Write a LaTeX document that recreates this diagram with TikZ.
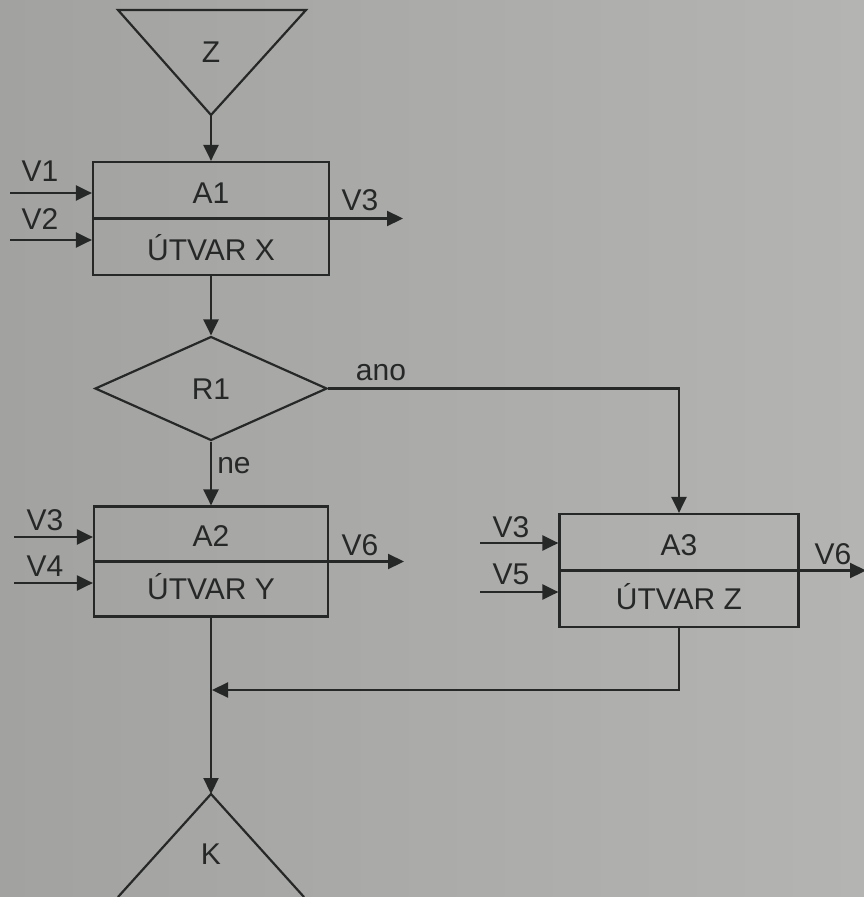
\documentclass[tikz,border=0pt]{standalone}
\usepackage{fontspec}
\setmainfont{Liberation Sans}
\usetikzlibrary{arrows.meta,shapes.geometric}
\definecolor{bgL}{RGB}{162,162,160}
\definecolor{bgR}{RGB}{180,180,178}
\definecolor{ink}{RGB}{38,40,40}
\begin{document}
\begin{tikzpicture}[x=1pt,y=-1pt,line width=2.2pt,draw=ink,
  >={Triangle[length=16pt,width=15pt]},
  every node/.style={text=ink,font=\fontsize{30}{34}\selectfont},
  proc/.style={draw,rectangle,inner sep=0pt,minimum width=236pt,minimum height=113pt},
  dec/.style={draw,diamond,inner sep=0pt,aspect=2.23,minimum width=232pt,minimum height=104pt},
  lab/.style={inner sep=0pt,anchor=base},
  flow/.style={->}]
\shade[left color=bgL,right color=bgR] (0,0) rectangle (864,897);
\useasboundingbox (0,0) rectangle (864,897);

% start triangle Z
\coordinate (ZL) at (118,10);
\coordinate (ZR) at (306,10);
\coordinate (Zapex) at (211,115);
\draw[line join=miter] (ZL) -- (ZR) -- (Zapex) -- cycle;
\node[inner sep=0pt] (Z) at (211,52) {Z};

% A1
\node[proc] (A1) at (211,218.5) {};
\draw (A1.west) -- (A1.east);
\node[lab] (A1t) at (211,203) {A1};
\node[lab] (A1b) at (211,260) {ÚTVAR X};
\coordinate (v1s) at (10,193);
\coordinate (v2s) at (10,240);
\draw[flow] (v1s) -- (v1s -| A1.west);
\draw[flow] (v2s) -- (v2s -| A1.west);
\node[inner sep=0pt] (lv1) at (40,171) {V1};
\node[inner sep=0pt] (lv2) at (40,219) {V2};
\coordinate (v3e) at (403,218.5);
\draw[flow] (A1.east) -- (v3e);
\node[inner sep=0pt] (lv3a) at (360,200) {V3};

% decision R1
\node[dec] (R1) at (211,388.5) {};
\node[inner sep=0pt] (R1t) at (211,389) {R1};

% A2
\node[proc,minimum width=234pt,minimum height=110pt] (A2) at (211,561.5) {};
\draw (A2.west) -- (A2.east);
\node[lab] (A2t) at (211,546.5) {A2};
\node[lab] (A2b) at (211,599) {ÚTVAR Y};
\coordinate (v3bs) at (14,537);
\coordinate (v4s) at (14,583);
\draw[flow] (v3bs) -- (v3bs -| A2.west);
\draw[flow] (v4s) -- (v4s -| A2.west);
\node[inner sep=0pt] (lv3b) at (45,520) {V3};
\node[inner sep=0pt] (lv4) at (45,566) {V4};
\coordinate (v6e) at (404,561.5);
\draw[flow] (A2.east) -- (v6e);
\node[inner sep=0pt] (lv6a) at (360,545) {V6};

% A3
\node[proc,minimum width=239pt] (A3) at (679,570.5) {};
\draw (A3.west) -- (A3.east);
\node[lab] (A3t) at (679,555) {A3};
\node[lab] (A3b) at (679,609) {ÚTVAR Z};
\coordinate (v3cs) at (480,543);
\coordinate (v5s) at (480,592);
\draw[flow] (v3cs) -- (v3cs -| A3.west);
\draw[flow] (v5s) -- (v5s -| A3.west);
\node[inner sep=0pt] (lv3c) at (511,527) {V3};
\node[inner sep=0pt] (lv5) at (511,574) {V5};
\coordinate (v6be) at (866,570.5);
\draw[flow] (A3.east) -- (v6be);
\node[inner sep=0pt] (lv6b) at (833,554) {V6};

% end triangle K
\coordinate (Kapex) at (211,794);
\coordinate (KL) at (118,897);
\coordinate (KR) at (304,897);
\draw[line join=miter] (KL) -- (Kapex) -- (KR);
\node[inner sep=0pt] (K) at (211,854) {K};

% connectors
\draw[flow] (Zapex) -- (A1.north);
\draw[flow] (A1.south) -- (R1.north);
\draw[flow] (R1.south) -- (A2.north);
\node[lab] (ne) at (234,473) {ne};
\draw[flow] (R1.east) -| (A3.north);
\node[lab] (ano) at (381,380) {ano};
\draw[flow] (A2.south) -- (Kapex);
\coordinate (join) at (212,690);
\draw[flow] (A3.south) |- (join);
\end{tikzpicture}
\end{document}
